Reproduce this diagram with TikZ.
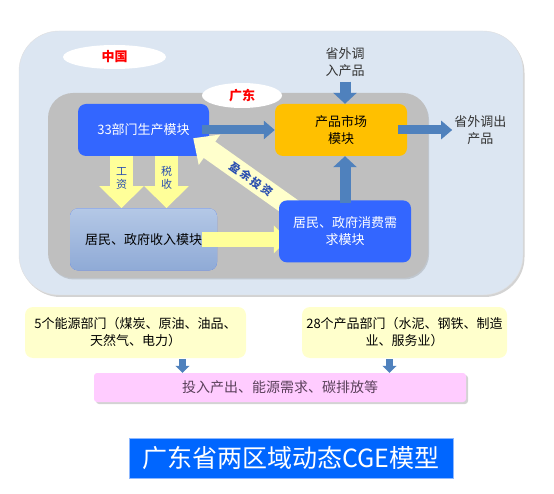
\documentclass[tikz,border=0pt]{standalone}
\usepackage{fontspec}
\setmainfont{Noto Sans CJK SC}
\usetikzlibrary{positioning, arrows.meta, shapes.geometric, shadows, backgrounds}

\definecolor{regionbg}{HTML}{DCE6F2}
\definecolor{provbg}{HTML}{BFBFBF}
\definecolor{modblue}{HTML}{3366FF}
\definecolor{modorange}{HTML}{FFC000}
\definecolor{inctop}{HTML}{B4C8E6}
\definecolor{incbot}{HTML}{8FAAD6}
\definecolor{arrblue}{HTML}{4F81BD}
\definecolor{arryellow}{HTML}{FFFF99}
\definecolor{arrcream}{HTML}{FFFFCC}
\definecolor{sectyellow}{HTML}{FFFFCC}
\definecolor{outpink}{HTML}{FFCCFF}
\definecolor{outtext}{HTML}{5A405A}
\definecolor{titleblue}{HTML}{0066FF}
\definecolor{titleedge}{HTML}{8DB8FF}
\definecolor{lblblue}{HTML}{2A4FB0}

\begin{document}
\begin{tikzpicture}[x=1pt, y=-1pt,
  region/.style={draw=black!12, rounded corners=40pt, fill=regionbg,
                 drop shadow={shadow xshift=1.5pt, shadow yshift=-2pt, opacity=0.35}},
  prov/.style={rounded corners=25pt, fill=provbg,
               drop shadow={shadow xshift=1pt, shadow yshift=-1.5pt, opacity=0.3}},
  tag/.style={ellipse, fill=white, inner sep=0pt, text=red,
              font=\fontsize{13pt}{15pt}\selectfont\bfseries},
  module/.style={rounded corners=8pt, fill=modblue, text=white, align=center,
                 font=\fontsize{13pt}{17pt}\selectfont},
  mktbox/.style={module, fill=modorange, text=black},
  incbox/.style={module, top color=inctop, bottom color=incbot, text=black},
  flowtxt/.style={align=center, text=black!80, inner sep=2pt,
                  font=\fontsize{13pt}{17pt}\selectfont},
  sector/.style={rounded corners=8pt, fill=sectyellow, align=center,
                 font=\fontsize{13pt}{17pt}\selectfont},
  result/.style={rounded corners=3pt, fill=outpink, text=outtext,
                 font=\fontsize{14pt}{17pt}\selectfont,
                 drop shadow={shadow xshift=2pt, shadow yshift=-2pt, opacity=0.35}},
  banner/.style={draw=titleedge, fill=titleblue, text=white,
                 font=\fontsize{25pt}{28pt}\selectfont},
  barr/.style={line width=9pt, draw=arrblue, -{Triangle[length=11pt, width=18pt]}},
  bup/.style={line width=11pt, draw=arrblue, -{Triangle[length=11pt, width=23pt]}},
  sarr/.style={line width=7pt, draw=arrblue, -{Triangle[length=7pt, width=14pt]}},
  yarr/.style={line width=23pt, draw=arryellow, -{Triangle[length=22pt, width=43pt]}},
  harr/.style={line width=15pt, draw=arryellow, -{Triangle[length=14pt, width=27pt]}},
  darr/.style={line width=20pt, draw=arrcream, -{Triangle[length=20pt, width=36pt]}},
  arrlbl/.style={align=center, text=lblblue, font=\fontsize{11pt}{13pt}\selectfont},
]
\useasboundingbox (0,0) rectangle (554,494);

% === Region frames ===
\node[region, minimum width=504pt, minimum height=264pt] (china) at (271,163) {};
\node[tag, minimum width=103pt, minimum height=24pt] (chinatag) at (114.5,57) {中国};
\node[prov, minimum width=380pt, minimum height=185pt] (gd) at (238,185.5) {};
\node[tag, minimum width=80pt, minimum height=25pt] (gdtag) at (242,95.5) {广东};

% === Production and market modules ===
\node[module, minimum width=131pt, minimum height=52pt] (prod) at (143.5,130) {33部门生产模块};
\node[mktbox, minimum width=132pt, minimum height=52pt] (market) at (341,130) {产品市场\\模块};
\draw[barr] ([xshift=-7pt]prod.east) -- (market.west |- prod.east);

% === Outside flows ===
\node[flowtxt] (inflow) at (345,62) {省外调\\入产品};
\node[flowtxt, right=45pt of market] (outflow) {省外调出\\产品};
\draw[bup] ([yshift=-3pt]inflow.south) -- (inflow.south |- market.north);
\draw[barr] ([xshift=-9pt]market.east) -- (outflow.west);

% === Income module ===
\node[incbox, minimum width=147pt, minimum height=62pt, below=52pt of prod] (income) {居民、政府收入模块};
\draw[yarr] ([xshift=-22pt]prod.south) -- node[arrlbl, pos=0.42] {工\\资} ([xshift=-22pt]income.north);
\draw[yarr] ([xshift=23pt]prod.south) -- node[arrlbl, pos=0.42] {税\\收} ([xshift=23pt]income.north);

% === Consumption module ===
\coordinate (constail) at (303,216);
\draw[darr] (constail) -- node[arrlbl, sloped, pos=0.47, font=\fontsize{11pt}{13pt}\selectfont\bfseries] {盈\,余\,投\,资}
  ([xshift=-16pt, yshift=18pt]prod.south east);
\draw[harr] ([xshift=-15pt]income.east) -- ([xshift=13pt]market.west |- income.east);
\node[module, minimum width=132pt, minimum height=62pt, below=44pt of market, xshift=4pt] (cons) {居民、政府消费需\\求模块};
\draw[bup] ([yshift=-3pt]cons.north) -- (cons.north |- market.south);

% === Sector groups and outputs ===
\node[sector, minimum width=221pt, minimum height=51pt] (energy) at (135.5,332.5) {5个能源部门（煤炭、原油、油品、\\天然气、电力）};
\node[sector, minimum width=205pt, minimum height=51pt] (goods) at (404.5,332.5) {28个产品部门（水泥、钢铁、制造\\业、服务业）};
\node[result, minimum width=372pt, minimum height=29pt] (output) at (280,387.5) {投入产出、能源需求、碳排放等};
\draw[sarr] ([xshift=47pt, yshift=-1pt]energy.south) -- ([xshift=47pt]energy.south |- output.north);
\draw[sarr] ([xshift=-15pt, yshift=-1pt]goods.south) -- ([xshift=-15pt]goods.south |- output.north);

% === Title ===
\node[banner, minimum width=324pt, minimum height=40pt] (title) at (291,458) {广东省两区域动态CGE模型};

\end{tikzpicture}
\end{document}
